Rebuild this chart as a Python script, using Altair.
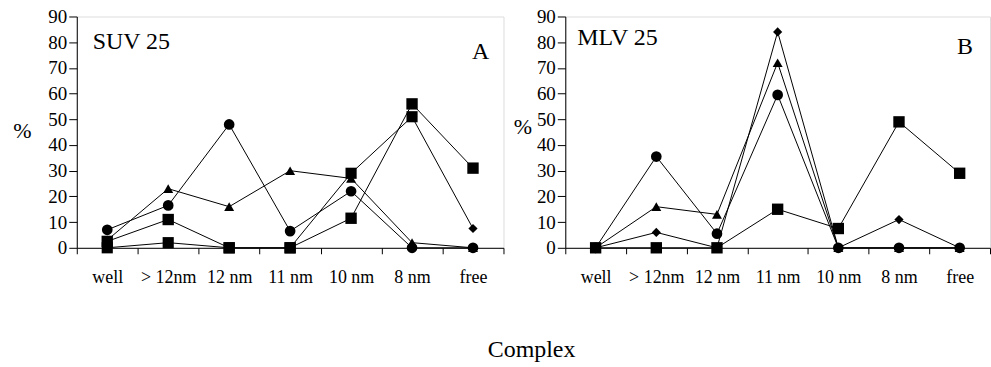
import altair as alt
import pandas as pd

categories = ["well", "> 12nm", "12 nm", "11 nm", "10 nm", "8 nm", "free"]

# Panel A (SUV 25)
a_diamond = [0, 2, 0, 0, 29, 51, 7.5]
a_triangle = [3, 23, 16, 30, 27, 2, 0]
a_circle = [7, 16.5, 48, 6.5, 22, 0, 0]
a_square = [2.5, 11, 0, 0, 11.5, 56, 31]

# Panel B (MLV 25)
b_diamond = [0, 6, 0, 84, 0, 11, 0]
b_triangle = [0, 16, 13, 72, 0, 0, 0]
b_circle = [0, 35.5, 5.5, 59.5, 0, 0, 0]
b_square = [0, 0, 0, 15, 7.5, 49, 29]

series_order = ["D", "T", "C", "S"]
shape_range = ["diamond", "triangle-up", "circle", "square"]
size_range = [85, 130, 110, 125]

FONT = "Liberation Serif"


def make_df(d, t, c, s):
    rows = []
    for name, vals in zip(series_order, [d, t, c, s]):
        for i, (cat, v) in enumerate(zip(categories, vals)):
            rows.append({"series": name, "cat": cat, "idx": i, "value": v})
    return pd.DataFrame(rows)


def panel(df, label, letter, w, h, title_x, title_y, label_x, label_y, letter_x, letter_y, square_d):
    x = alt.X(
        "cat:N",
        sort=categories,
        bandPosition=0.5,
        scale=alt.Scale(type="band", paddingInner=0, paddingOuter=0),
        axis=alt.Axis(
            title=None,
            labelAngle=0,
            tickBand="extent",
            tickSize=6,
            labelPadding=15,
            labelFont=FONT,
            labelFontSize=18,
            labelColor="black",
            domainColor="black",
            tickColor="black",
            labelOverlap=False,
            grid=False,
        ),
    )
    y = alt.Y(
        "value:Q",
        scale=alt.Scale(domain=[0, 90], nice=False),
        axis=alt.Axis(
            values=list(range(0, 100, 10)),
            title="%",
            titleAngle=0,
            titleX=title_x,
            titleY=title_y,
            titleAlign="center",
            titleBaseline="middle",
            titleFont=FONT,
            titleFontSize=22,
            titleFontWeight="normal",
            titleColor="black",
            tickSize=8,
            labelPadding=2,
            labelFont=FONT,
            labelFontSize=19,
            labelColor="black",
            domainColor="black",
            tickColor="black",
            grid=False,
        ),
    )
    base = alt.Chart(df)
    lines = base.mark_line(color="black", strokeWidth=1).encode(
        x=x, y=y, detail="series:N", order="idx:Q"
    )
    if square_d:
        test = "datum.series == 'D' && datum.cat != 'free'"
        shape = alt.condition(
            test,
            alt.value("square"),
            alt.Shape("series:N", scale=alt.Scale(domain=series_order, range=shape_range), legend=None),
        )
        size = alt.condition(
            test,
            alt.value(125),
            alt.Size("series:N", scale=alt.Scale(domain=series_order, range=size_range), legend=None),
        )
    else:
        shape = alt.Shape("series:N", scale=alt.Scale(domain=series_order, range=shape_range), legend=None)
        size = alt.Size("series:N", scale=alt.Scale(domain=series_order, range=size_range), legend=None)
    points = base.mark_point(filled=True, color="black", opacity=1).encode(
        x=x, y=y, shape=shape, size=size
    )
    lab = alt.Chart(pd.DataFrame({"t": [label]})).mark_text(
        align="left", baseline="middle", font=FONT, fontSize=24, color="black"
    ).encode(text="t:N", x=alt.value(label_x), y=alt.value(label_y))
    let = alt.Chart(pd.DataFrame({"t": [letter]})).mark_text(
        align="center", baseline="middle", font=FONT, fontSize=24, color="black"
    ).encode(text="t:N", x=alt.value(letter_x), y=alt.value(letter_y))
    return alt.layer(lines, points, lab, let).properties(width=w, height=h)


pa = panel(make_df(a_diamond, a_triangle, a_circle, a_square), "SUV 25", "A",
           428, 232, -55, 114, 16, 26, 405, 36, True)
pb = panel(make_df(b_diamond, b_triangle, b_circle, b_square), "MLV 25", "B",
           426, 232, -43, 110, 12, 22, 401, 31, False)

chart = (
    alt.hconcat(pa, pb, spacing=8)
    .properties(
        padding={"left": 12, "top": 6, "right": 0, "bottom": 0},
        title=alt.TitleParams(
            "Complex",
            orient="bottom",
            anchor="middle",
            font=FONT,
            fontSize=24,
            fontWeight="normal",
            color="black",
            offset=51,
            dx=30,
        ),
    )
    .configure_view(stroke="#8a8a8a", strokeWidth=1.2, strokeDash=[2, 1])
    .configure(background="white")
)

chart.save("out.html", embed_options={"renderer": "svg", "actions": False})
